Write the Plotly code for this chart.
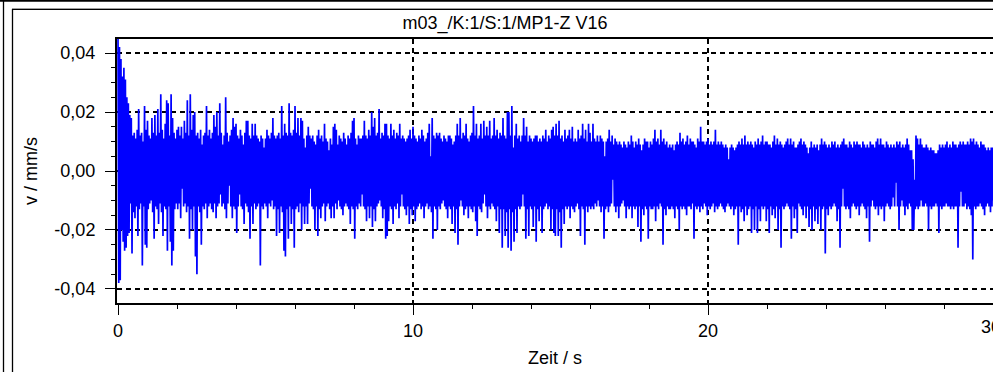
import plotly.graph_objects as go

# ---------------- data ----------------
title_text = "m03_/K:1/S:1/MP1-Z V16"
x_title = "Zeit / s"
y_title = "v / mm/s"

dt_s = 0.05  # time step between successive peak pairs

# positive peak per 0.05 s step, in 0.001 mm/s
upper_um_s = [
    46, 42, 38, 32, 35, 31, 25, 23, 19, 18, 12, 13, 11, 14, 21, 12, 13, 10, 22, 14,
    17, 12, 11, 18, 13, 19, 12, 21, 13, 26, 14, 11, 16, 24, 23, 12, 26, 18, 13, 11,
    14, 15, 12, 15, 11, 17, 13, 24, 12, 26, 14, 19, 20, 12, 13, 11, 14, 9, 12, 13,
    22, 12, 14, 11, 13, 19, 15, 20, 12, 23, 13, 9, 12, 25, 13, 10, 12, 14, 18, 15,
    16, 12, 11, 14, 12, 9, 13, 17, 17, 12, 11, 16, 12, 16, 12, 11, 10, 12, 11, 8,
    11, 14, 12, 11, 13, 18, 12, 11, 12, 13, 11, 22, 12, 16, 13, 12, 23, 13, 12, 14,
    22, 13, 18, 12, 18, 17, 11, 8, 12, 15, 12, 11, 12, 10, 9, 12, 14, 11, 12, 10,
    16, 11, 10, 7, 11, 9, 15, 16, 14, 9, 12, 11, 10, 13, 11, 9, 12, 11, 13, 17,
    18, 11, 9, 12, 11, 11, 12, 17, 12, 11, 14, 12, 20, 15, 18, 12, 13, 21, 11, 13,
    12, 16, 16, 12, 11, 16, 12, 14, 11, 13, 12, 16, 11, 12, 11, 10, 11, 12, 14, 11,
    15, 12, 11, 10, 12, 11, 14, 12, 10, 11, 13, 16, 5, 18, 12, 11, 13, 12, 13, 11,
    10, 12, 11, 10, 12, 12, 11, 9, 10, 12, 16, 12, 18, 11, 13, 12, 16, 11, 10, 12,
    13, 22, 12, 16, 11, 12, 16, 11, 17, 12, 15, 12, 17, 11, 12, 18, 12, 14, 11, 13,
    12, 18, 12, 11, 20, 20, 12, 22, 8, 12, 16, 11, 12, 10, 12, 18, 12, 15, 10, 12,
    11, 10, 11, 12, 12, 10, 11, 10, 12, 11, 14, 10, 12, 11, 14, 15, 12, 16, 12, 17,
    11, 12, 10, 14, 11, 12, 14, 11, 15, 10, 11, 10, 14, 11, 12, 16, 11, 14, 10, 16,
    13, 10, 16, 11, 10, 12, 10, 12, 11, 10, 5, 10, 11, 14, 10, 12, 9, 11, 10, 9,
    10, 9, 8, 10, 9, 8, 10, 9, 12, 10, 8, 10, 9, 11, 9, 7, 9, 11, 10, 10,
    8, 10, 9, 11, 14, 10, 11, 9, 14, 10, 11, 9, 10, 8, 9, 8, 9, 7, 9, 10,
    9, 13, 10, 11, 9, 10, 12, 9, 11, 10, 10, 9, 8, 11, 10, 15, 10, 10, 9, 10,
    11, 9, 10, 9, 10, 14, 9, 10, 9, 10, 9, 8, 9, 8, 4, 8, 9, 8, 7, 8,
    9, 10, 9, 11, 9, 12, 9, 10, 9, 10, 9, 8, 10, 9, 11, 9, 10, 12, 9, 10,
    10, 9, 9, 8, 10, 12, 9, 11, 9, 10, 9, 8, 9, 10, 11, 9, 11, 9, 10, 8,
    8, 9, 10, 11, 9, 10, 9, 8, 6, 8, 10, 8, 9, 8, 9, 7, 9, 11, 9, 10,
    9, 8, 9, 8, 10, 9, 10, 8, 9, 8, 9, 10, 11, 9, 9, 8, 10, 9, 8, 10,
    9, 10, 9, 9, 8, 10, 9, 8, 9, 8, 10, 9, 9, 8, 10, 11, 9, 11, 9, 9,
    8, 10, 9, 8, 9, 8, 9, 8, 10, 9, 10, 8, 9, 8, 9, 11, 9, 7, 7, 4,
    -3, 12, 11, 9, 11, 9, 8, 8, 9, 8, 7, 8, 7, 7, 6, 6, 7, 9, 8, 9,
    8, 9, 10, 8, 9, 8, 10, 9, 9, 8, 9, 10, 9, 10, 9, 9, 10, 9, 11, 10,
    11, 9, 10, 9, 8, 10, 9, 9, 8, 7, 8, 7, 8, 8, 9, 8, 9, 10, 9, 8,
]

# negative peak per 0.05 s step, in 0.001 mm/s
lower_um_s = [
    -38, -37, -20, -24, -27, -26, -22, -21, -11, -28, -14, -16, -12, -22, -13, -11, -32, -12, -25, -26,
    -13, -11, -10, -14, -23, -12, -13, -18, -11, -14, -22, -12, -13, -27, -12, -24, -32, -27, -13, -11,
    -13, -11, -16, -6, -12, -11, -14, -12, -23, -13, -20, -12, -29, -35, -12, -14, -25, -12, -13, -11,
    -16, -12, -11, -13, -14, -11, -16, -12, -11, -8, -12, -11, -13, -16, -11, -5, -12, -16, -12, -13,
    -21, -12, -8, -12, -13, -18, -11, -12, -14, -23, -12, -18, -11, -13, -12, -11, -32, -12, -13, -11,
    -12, -16, -11, -12, -10, -13, -12, -22, -13, -21, -12, -14, -27, -29, -13, -23, -12, -18, -13, -26,
    -13, -12, -14, -11, -20, -12, -18, -12, -18, -11, -6, -12, -13, -20, -12, -22, -13, -16, -12, -11,
    -17, -12, -11, -13, -16, -12, -16, -11, -13, -10, -12, -13, -15, -12, -11, -12, -13, -18, -12, -13,
    -23, -12, -13, -11, -12, -8, -12, -13, -17, -12, -16, -12, -19, -13, -17, -12, -11, -10, -12, -16,
    -13, -23, -22, -17, -12, -13, -18, -12, -13, -11, -16, -12, -8, -12, -13, -15, -12, -18, -13, -15,
    -12, -17, -13, -12, -11, -13, -12, -16, -12, -11, -13, -12, -14, -23, -12, -13, -20, -12, -13, -11,
    -10, -12, -13, -16, -12, -13, -18, -12, -21, -13, -25, -12, -10, -12, -15, -13, -12, -16, -12, -13,
    -14, -12, -17, -22, -12, -13, -14, -11, -8, -12, -16, -12, -13, -11, -12, -13, -17, -12, -21, -13,
    -26, -13, -22, -14, -26, -13, -27, -14, -24, -13, -21, -12, -13, -12, -8, -12, -23, -13, -22, -12,
    -13, -19, -12, -24, -13, -17, -12, -21, -13, -12, -11, -13, -12, -20, -13, -21, -22, -13, -22, -14,
    -26, -13, -18, -12, -13, -12, -16, -12, -13, -14, -12, -11, -13, -22, -12, -13, -25, -12, -14, -12,
    -13, -12, -13, -11, -12, -10, -12, -14, -12, -23, -13, -12, -14, -12, -11, -3, -12, -14, -12, -16,
    -12, -11, -10, -12, -16, -12, -13, -12, -16, -12, -13, -12, -19, -12, -24, -13, -15, -12, -13, -23,
    -12, -13, -13, -12, -17, -12, -13, -11, -12, -25, -13, -15, -12, -13, -13, -12, -13, -16, -12, -13,
    -20, -12, -13, -12, -13, -15, -12, -12, -13, -11, -23, -12, -13, -12, -14, -12, -13, -11, -12, -15,
    -12, -13, -12, -11, -14, -12, -13, -12, -11, -12, -13, -14, -12, -11, -12, -13, -12, -15, -13, -12,
    -25, -12, -14, -13, -17, -12, -15, -13, -12, -21, -13, -20, -12, -21, -13, -17, -12, -13, -12, -17,
    -13, -21, -12, -15, -13, -16, -12, -20, -13, -26, -12, -13, -12, -11, -12, -13, -23, -12, -16, -13,
    -21, -11, -12, -13, -15, -12, -16, -12, -19, -13, -20, -12, -17, -13, -18, -12, -20, -13, -12, -28,
    -13, -15, -12, -13, -12, -11, -12, -17, -13, -26, -12, -6, -12, -13, -12, -13, -16, -12, -11, -12,
    -13, -12, -15, -12, -11, -12, -13, -16, -12, -24, -12, -10, -12, -13, -12, -15, -12, -13, -12, -17,
    -12, -11, -12, -13, -12, -9, -12, -4, -12, -20, -12, -10, -12, -15, -12, -13, -11, -12, -20, -20,
    -13, -12, -13, -12, -10, -12, -12, -11, -12, -20, -12, -13, -12, -12, -11, -12, -21, -12, -13, -12,
    -12, -11, -12, -12, -13, -12, -13, -12, -12, -26, -12, -7, -12, -12, -11, -13, -12, -13, -15, -30,
    -12, -13, -12, -12, -11, -12, -13, -15, -12, -11, -12, -14, -12, -10, -12, -13, -12, -11, -12, -13,
]

x_tickvals = [0, 10, 20, 30]
x_ticktext = ["0", "10", "20", "30"]
y_tickvals = [-0.04, -0.02, 0.0, 0.02, 0.04]
y_ticktext = ["-0,04", "-0,02", "0,00", "0,02", "0,04"]
x_minor_vals = [v for v in range(0, 31, 2)]
y_minor_vals = [k * 0.005 for k in range(-8, 9)]

# ---------------- layout geometry ----------------
W, H = 993, 372
ML, MT, MB, MR = 117, 39, 69, 0
x_range = [-0.034, 29.66]
y_range = [-0.04475, 0.04475]
FONT = "Liberation Sans, Arial, sans-serif"

n = min(len(upper_um_s), len(lower_um_s))
t, v = [], []
for i in range(n):
    t.append(i * dt_s)
    v.append(upper_um_s[i] / 1000.0)
    t.append((i + 0.5) * dt_s)
    v.append(lower_um_s[i] / 1000.0)

fig = go.Figure()
fig.add_trace(go.Scatter(x=t, y=v, mode="lines",
                         line=dict(color="#0000ff", width=1.7),
                         hoverinfo="skip", showlegend=False))

def pxx(px):
    return (px - ML) / (W - ML - MR)

def pxy(py):
    return (H - MB - py) / (H - MT - MB)

axis_common = dict(
    showline=True, linecolor="black", linewidth=2,
    ticks="outside", ticklen=10, tickwidth=1, tickcolor="black",
    showgrid=True, gridcolor="black", gridwidth=1.5, griddash="5px,4px",
    zeroline=False, tickfont=dict(family=FONT, size=18, color="black"),
)

fig.update_layout(
    width=W, height=H,
    margin=dict(l=ML, r=MR, t=MT, b=MB, pad=0),
    paper_bgcolor="white", plot_bgcolor="white",
    font=dict(family=FONT, size=18, color="black"),
    showlegend=False,
    title=dict(text=title_text, x=505 / W, xref="container", xanchor="center",
               y=1 - 23 / H, yref="container", yanchor="middle",
               font=dict(family=FONT, size=18, color="black")),
    xaxis=dict(range=x_range, tickmode="array", tickvals=x_tickvals, ticktext=x_ticktext,
               mirror=True, ticklabelstandoff=0,
               minor=dict(tickmode="array", tickvals=x_minor_vals, ticks="outside",
                          ticklen=4, tickcolor="black", showgrid=False),
               title=dict(text=x_title, standoff=12, font=dict(family=FONT, size=18)),
               **axis_common),
    yaxis=dict(range=y_range, tickmode="array", tickvals=y_tickvals, ticktext=y_ticktext,
               mirror=False, ticklabelstandoff=6,
               minor=dict(tickmode="array", tickvals=y_minor_vals, ticks="outside",
                          ticklen=4, tickcolor="black", showgrid=False),
               title=dict(text=y_title, standoff=12, font=dict(family=FONT, size=18)),
               **axis_common),
)

# "30" tick label lies at the right edge of the window (cut off in the reference)
fig.add_annotation(x=(30 - x_range[0]) / (x_range[1] - x_range[0]), y=0,
                   xref="paper", yref="paper", xanchor="center", yanchor="top",
                   xshift=-12, yshift=-12, text=x_ticktext[3], showarrow=False,
                   font=dict(family=FONT, size=18, color="black"))

# window frame lines
frame = [
    dict(x0=pxx(0), x1=pxx(W), y0=pxy(0.75), y1=pxy(0.75), color="black", width=2),
    dict(x0=pxx(12), x1=pxx(W), y0=pxy(8.5), y1=pxy(8.5), color="#a0a0a0", width=1),
    dict(x0=pxx(12), x1=pxx(W), y0=pxy(9.5), y1=pxy(9.5), color="black", width=1),
    dict(x0=pxx(3.5), x1=pxx(3.5), y0=pxy(0), y1=pxy(H), color="black", width=1.3),
    dict(x0=pxx(12.5), x1=pxx(12.5), y0=pxy(9), y1=pxy(H), color="black", width=1.3),
]
for f in frame:
    fig.add_shape(type="line", xref="paper", yref="paper",
                  x0=f["x0"], x1=f["x1"], y0=f["y0"], y1=f["y1"],
                  line=dict(color=f["color"], width=f["width"]), layer="above")

fig.write_html("out.html")
